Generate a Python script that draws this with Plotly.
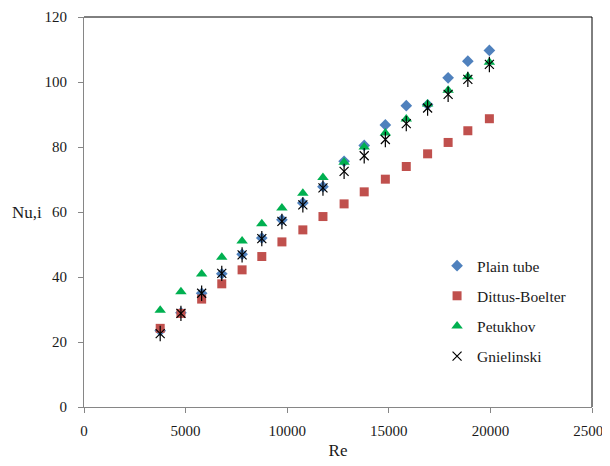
import plotly.graph_objects as go

re_vals = [3750, 4770, 5790, 6780, 7780, 8750, 9740, 10770, 11760, 12800,
           13790, 14830, 15860, 16910, 17920, 18890, 19950]
plain_tube = [23.5, 29.0, 35.0, 41.0, 47.0, 52.0, 57.6, 62.8, 67.8, 75.6,
              80.5, 86.8, 92.7, 93.0, 101.3, 106.4, 109.7]
dittus_boelter = [24.2, 28.8, 33.2, 37.9, 42.2, 46.3, 50.8, 54.5, 58.6, 62.5,
                  66.2, 70.1, 74.0, 77.9, 81.4, 85.0, 88.7]
petukhov = [29.8, 35.5, 40.9, 46.1, 51.1, 56.4, 61.2, 65.8, 70.6, 75.3,
            80.0, 84.3, 88.6, 93.2, 97.5, 101.6, 106.1]
gnielinski = [22.6, 28.8, 35.0, 41.1, 46.8, 51.8, 57.1, 62.2, 67.4, 72.5,
              77.3, 82.3, 87.2, 92.0, 96.2, 100.8, 105.4]

x_ticks = [0, 5000, 10000, 15000, 20000, 25000]
x_tick_labels = ["0", "5000", "10000", "15000", "20000", "25000"]
y_ticks = [0, 20, 40, 60, 80, 100, 120]
y_tick_labels = ["0", "20", "40", "60", "80", "100", "120"]

font_family = "Liberation Serif, Times New Roman, serif"

fig = go.Figure()
fig.add_trace(go.Scatter(x=re_vals, y=plain_tube, mode="markers", name="Plain tube",
                         legendgroup="a",
                         marker=dict(symbol="diamond", size=9, color="#4F81BD")))
fig.add_trace(go.Scatter(x=re_vals, y=dittus_boelter, mode="markers", name="Dittus-Boelter",
                         legendgroup="b",
                         marker=dict(symbol="square", size=9, color="#C0504D")))
fig.add_trace(go.Scatter(x=re_vals, y=petukhov, mode="markers", name="Petukhov",
                         legendgroup="c",
                         marker=dict(symbol="triangle-up", size=10, color="#00B050")))
fig.add_trace(go.Scatter(x=re_vals, y=gnielinski, mode="markers", name="Gnielinski",
                         legendgroup="d",
                         marker=dict(symbol="x-thin-open", size=9, color="black",
                                     line=dict(width=1.2, color="black"))))
fig.add_trace(go.Scatter(x=re_vals, y=gnielinski, mode="markers", name="Gnielinski",
                         legendgroup="d", showlegend=False,
                         marker=dict(symbol="line-ns-open", size=11, color="black",
                                     line=dict(width=1.2, color="black"))))

fig.update_layout(
    width=602, height=458,
    margin=dict(l=76, r=18, t=9, b=59),
    paper_bgcolor="white", plot_bgcolor="white",
    font=dict(family=font_family, size=15, color="#1a1a1a"),
    showlegend=True,
    legend=dict(x=0.695, y=0.405, xanchor="left", yanchor="top",
                traceorder="grouped", tracegroupgap=7,
                bgcolor="rgba(0,0,0,0)", font=dict(size=15.5)),
    xaxis=dict(range=[0, 25000], tickvals=x_ticks, ticktext=x_tick_labels,
               showgrid=False, zeroline=False, automargin=False,
               ticklabeloverflow="allow",
               showline=True, linecolor="#868686", linewidth=1,
               ticks="outside", ticklen=5, tickcolor="#868686",
               ticklabelstandoff=5,
               title=dict(text="Re", font=dict(size=17), standoff=6)),
    yaxis=dict(range=[0, 120], tickvals=y_ticks, ticktext=y_tick_labels,
               showgrid=False, zeroline=False, automargin=False,
               ticklabeloverflow="allow",
               showline=True, linecolor="#868686", linewidth=1,
               ticks="outside", ticklen=5, tickcolor="#868686",
               ticklabelstandoff=8),
    annotations=[dict(text="Nu,i", xref="paper", yref="paper", x=-0.112, y=0.50,
                      xanchor="center", yanchor="middle", showarrow=False,
                      font=dict(size=17))],
    shapes=[
        dict(type="line", xref="paper", yref="paper", x0=0, x1=1, y0=1, y1=1,
             line=dict(color="black", width=1)),
        dict(type="line", xref="paper", yref="paper", x0=1, x1=1, y0=0, y1=1,
             line=dict(color="black", width=1)),
    ],
)

fig.write_html("out.html")
